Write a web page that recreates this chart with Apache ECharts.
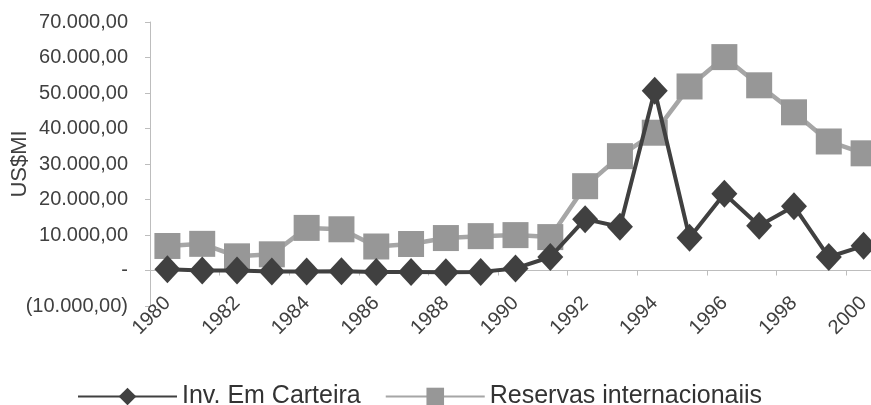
<!DOCTYPE html>
<html>
<head>
<meta charset="utf-8">
<script src="https://cdn.jsdelivr.net/npm/echarts@6/dist/echarts.min.js"></script>
<style>
  html, body { margin: 0; padding: 0; background: #fff; }
  #chart { width: 871px; height: 405px; }
</style>
</head>
<body>
<div id="chart"></div>
<script>
// Anos da série
const anos = ['1980','1981','1982','1983','1984','1985','1986','1987','1988','1989','1990',
              '1991','1992','1993','1994','1995','1996','1997','1998','1999','2000'];
// Investimento em carteira (US$ milhões)
const invCarteira = [350, 3, -2, -280, -270, -240, -430, -430, -500, -390, 580,
                     3800, 14470, 12330, 50640, 9220, 21620, 12620, 18130, 3800, 6960];
// Reservas internacionais (US$ milhões)
const reservas = [6910, 7510, 3990, 4560, 12000, 11610, 6760, 7460, 9140, 9680, 9970,
                  9410, 23750, 32210, 38810, 51840, 60110, 52170, 44560, 36340, 33010];
// Escala do eixo vertical
const yMin = -10000, yMax = 70000, yStep = 10000;

function formatoBR(v) {
  if (v === 0) return '-';
  const abs = Math.abs(v);
  const inteiro = Math.floor(abs).toString().replace(/\B(?=(\d{3})+(?!\d))/g, '.');
  const txt = inteiro + ',00';
  return v < 0 ? '(' + txt + ')' : txt;
}

const chart = echarts.init(document.getElementById('chart'));
const fonte = '"Liberation Sans", Arial, sans-serif';
chart.setOption({
  animation: false,
  textStyle: { fontFamily: fonte },
  grid: { left: 150, top: 22, width: 731, height: 284, containLabel: false, outerBoundsMode: 'none' },
  xAxis: {
    type: 'category',
    data: anos,
    boundaryGap: true,
    axisLine: { onZero: true, lineStyle: { color: '#bdbdbd', width: 1 } },
    axisTick: { show: true, alignWithLabel: false, length: 5, lineStyle: { color: '#bdbdbd' } },
    axisLabel: { interval: 1, rotate: 45, color: '#404040', fontSize: 20, fontFamily: fonte, margin: -6 }
  },
  yAxis: {
    type: 'value',
    min: yMin, max: yMax, interval: yStep,
    name: 'US$MI',
    nameLocation: 'middle',
    nameGap: 119,
    nameRotate: 90,
    nameMoveOverlap: false,
    nameTextStyle: { color: '#404040', fontSize: 22, fontFamily: fonte },
    axisLine: { show: true, lineStyle: { color: '#bdbdbd', width: 1 } },
    axisTick: { show: true, inside: false, length: 5, lineStyle: { color: '#bdbdbd' } },
    splitLine: { show: false },
    axisLabel: { color: '#404040', fontSize: 20, fontFamily: fonte, margin: 22, formatter: formatoBR }
  },
  legend: {
    top: 379,
    left: 72,
    itemWidth: 99,
    itemHeight: 22,
    itemGap: 24,
    textStyle: { color: '#333333', fontSize: 25, fontFamily: fonte },
    data: ['Inv. Em Carteira', 'Reservas internacionaiis']
  },
  series: [
    {
      name: 'Reservas internacionaiis',
      type: 'line',
      data: reservas,
      symbol: 'rect',
      symbolSize: 26,
      showAllSymbol: true,
      z: 2,
      lineStyle: { color: '#a6a6a6', width: 4.5 },
      itemStyle: { color: '#979797' }
    },
    {
      name: 'Inv. Em Carteira',
      type: 'line',
      data: invCarteira,
      symbol: 'diamond',
      symbolSize: [26, 28],
      showAllSymbol: true,
      z: 3,
      lineStyle: { color: '#404040', width: 4 },
      itemStyle: { color: '#404040' }
    }
  ]
});
</script>
</body>
</html>
